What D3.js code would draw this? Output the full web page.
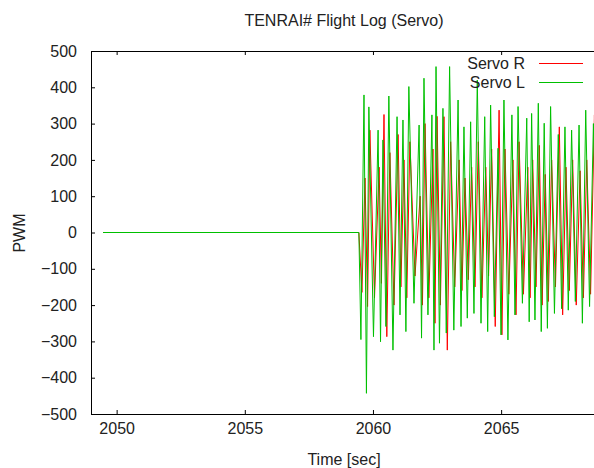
<!DOCTYPE html>
<html>
<head>
<meta charset="utf-8">
<script src="https://cdn.jsdelivr.net/npm/d3@7"></script>
<style>
  html, body { margin: 0; padding: 0; background: #fff; }
  svg { display: block; }
  text { font-family: "Liberation Sans", Arial, sans-serif; fill: #222; }
</style>
</head>
<body>
<svg id="chart" width="594" height="468"></svg>
<script>
// ---- data ----
const title = "TENRAI# Flight Log (Servo)";
const xLabel = "Time [sec]";
const yLabel = "PWM";
const xTicks = [2050, 2055, 2060, 2065];
const yTicks = [-500, -400, -300, -200, -100, 0, 100, 200, 300, 400, 500];
const seriesNames = ["Servo R", "Servo L"];

const timesL = [
  2049.47, 2059.45, 2059.53, 2059.65, 2059.745, 2059.84, 2060.02, 2060.20, 2060.295, 2060.39,
  2060.505, 2060.62, 2060.78, 2060.94, 2061.055, 2061.17, 2061.285, 2061.40, 2061.60, 2061.80,
  2061.895, 2061.99, 2062.145, 2062.30, 2062.38, 2062.46, 2062.595, 2062.73, 2062.86, 2062.99,
  2063.155, 2063.32, 2063.435, 2063.55, 2063.68, 2063.81, 2063.94, 2064.07, 2064.215, 2064.36,
  2064.475, 2064.59, 2064.735, 2064.88, 2064.995, 2065.11, 2065.265, 2065.42, 2065.54, 2065.66,
  2065.83, 2066.00, 2066.095, 2066.19, 2066.32, 2066.45, 2066.565, 2066.68, 2066.805, 2066.93,
  2067.08, 2067.23, 2067.36, 2067.49, 2067.62, 2067.75, 2067.895, 2068.04, 2068.17, 2068.30,
  2068.45, 2068.60, 2068.74
];
const servoL = [
  0, 0, -295, 379, -443, 346, -287, 282, -301, 255,
  -259, 376, -324, 319, -227, 310, -273, 402, -195, 296,
  -291, 425, -227, 324, -324, 457, -305, 342, -277, 457,
  -269, 365, -259, 291, -236, 305, -223, 420, -250, 319,
  -273, 351, -232, 232, -282, 365, -296, 324, -227, 347,
  -195, 315, -246, 328, -241, 356, -273, 301, -264, 347,
  -223, 270, -210, 291, -214, 282, -190, 296, -250, 337,
  -204, 300, -210
];
const timesR = [
  2049.47, 2059.45, 2059.57, 2059.69, 2059.79, 2059.88, 2060.06, 2060.24, 2060.33, 2060.43,
  2060.54, 2060.66, 2060.82, 2060.98, 2061.09, 2061.21, 2061.32, 2061.44, 2061.64, 2061.84,
  2061.93, 2062.03, 2062.18, 2062.34, 2062.42, 2062.50, 2062.63, 2062.77, 2062.90, 2063.03,
  2063.19, 2063.36, 2063.47, 2063.59, 2063.72, 2063.85, 2063.98, 2064.11, 2064.25, 2064.40,
  2064.51, 2064.63, 2064.77, 2064.92, 2065.03, 2065.15, 2065.30, 2065.46, 2065.58, 2065.70,
  2065.87, 2066.04, 2066.13, 2066.23, 2066.36, 2066.49, 2066.60, 2066.72, 2066.84, 2066.97,
  2067.12, 2067.27, 2067.40, 2067.53, 2067.66, 2067.79, 2067.93, 2068.08, 2068.21, 2068.34,
  2068.49, 2068.64, 2068.78
];
const servoR = [
  0, 0, -165, 150, -204, 282, -180, 180, -140, 325,
  -287, 220, -200, 270, -150, 200, -180, 250, -120, 100,
  -200, 300, -180, 230, -250, 320, -200, 319, -324, 250,
  -150, 200, -160, 150, -130, 180, -150, 250, -180, 180,
  -120, 230, -259, 337, -282, 230, -170, 200, -227, 250,
  -170, 180, -180, 200, -150, 240, -200, 160, -190, 200,
  -150, 291, -227, 180, -160, 200, -200, 170, -180, 200,
  -170, 324, -150
];
const colors = ["#ff0000", "#00c000"];

// ---- layout ----
const m = { left: 91, top: 51, right: 597, bottom: 414 };
const svg = d3.select("#chart");

const x = d3.scaleLinear().domain([2049.0, 2068.74]).range([m.left, m.right]);
const y = d3.scaleLinear().domain([-500, 500]).range([m.bottom, m.top]);

svg.append("defs").append("clipPath").attr("id", "clip")
  .append("rect").attr("x", m.left).attr("y", m.top)
  .attr("width", m.right - m.left).attr("height", m.bottom - m.top);

const fs = 16;
const xAxisB = d3.axisBottom(x).tickValues(xTicks).tickSize(-4).tickPadding(9).tickFormat(d3.format("d"));
const xAxisT = d3.axisTop(x).tickValues(xTicks).tickSize(-4).tickFormat("");
const yAxisL = d3.axisLeft(y).tickValues(yTicks).tickSize(-4).tickPadding(14).tickFormat(d3.format("d"));

function styleAxis(g) {
  g.select(".domain").remove();
  g.selectAll(".tick line").attr("stroke", "#000").attr("stroke-width", 1);
  g.selectAll(".tick text").attr("font-size", fs).attr("fill", "#222")
    .style("font-family", '"Liberation Sans", Arial, sans-serif');
}

svg.append("g").attr("transform", `translate(0,${m.bottom})`).call(xAxisB).call(styleAxis);
svg.append("g").attr("transform", `translate(0,${m.top})`).call(xAxisT).call(styleAxis);
svg.append("g").attr("transform", `translate(${m.left},0)`).call(yAxisL).call(styleAxis);

svg.append("rect")
  .attr("x", m.left + 0.5).attr("y", m.top + 0.5)
  .attr("width", m.right - m.left).attr("height", m.bottom - m.top)
  .attr("fill", "none").attr("stroke", "#000").attr("stroke-width", 1);

const series = [
  servoR.map((v, i) => [timesR[i], v]),
  servoL.map((v, i) => [timesL[i], v])
];
const line = d3.line().x(d => x(d[0])).y(d => y(d[1]));
const plot = svg.append("g").attr("clip-path", "url(#clip)");
series.forEach((pts, k) => {
  plot.append("path")
    .datum(pts)
    .attr("d", line)
    .attr("fill", "none")
    .attr("stroke", colors[k])
    .attr("stroke-width", 1);
});

seriesNames.forEach((name, k) => {
  const ly = 63 + k * 19;
  svg.append("text").attr("x", 525).attr("y", ly + 5.5)
    .attr("text-anchor", "end").attr("font-size", fs).text(name);
  svg.append("line").attr("x1", 539).attr("x2", 583)
    .attr("y1", ly + 0.5).attr("y2", ly + 0.5)
    .attr("stroke", colors[k]).attr("stroke-width", 1);
});

svg.append("text").attr("x", 344).attr("y", 26).attr("text-anchor", "middle")
  .attr("font-size", fs).text(title);
svg.append("text").attr("x", 344).attr("y", 465).attr("text-anchor", "middle")
  .attr("font-size", fs).text(xLabel);
svg.append("text").attr("transform", "translate(25,233) rotate(-90)")
  .attr("text-anchor", "middle").attr("font-size", fs).text(yLabel);
</script>
</body>
</html>
